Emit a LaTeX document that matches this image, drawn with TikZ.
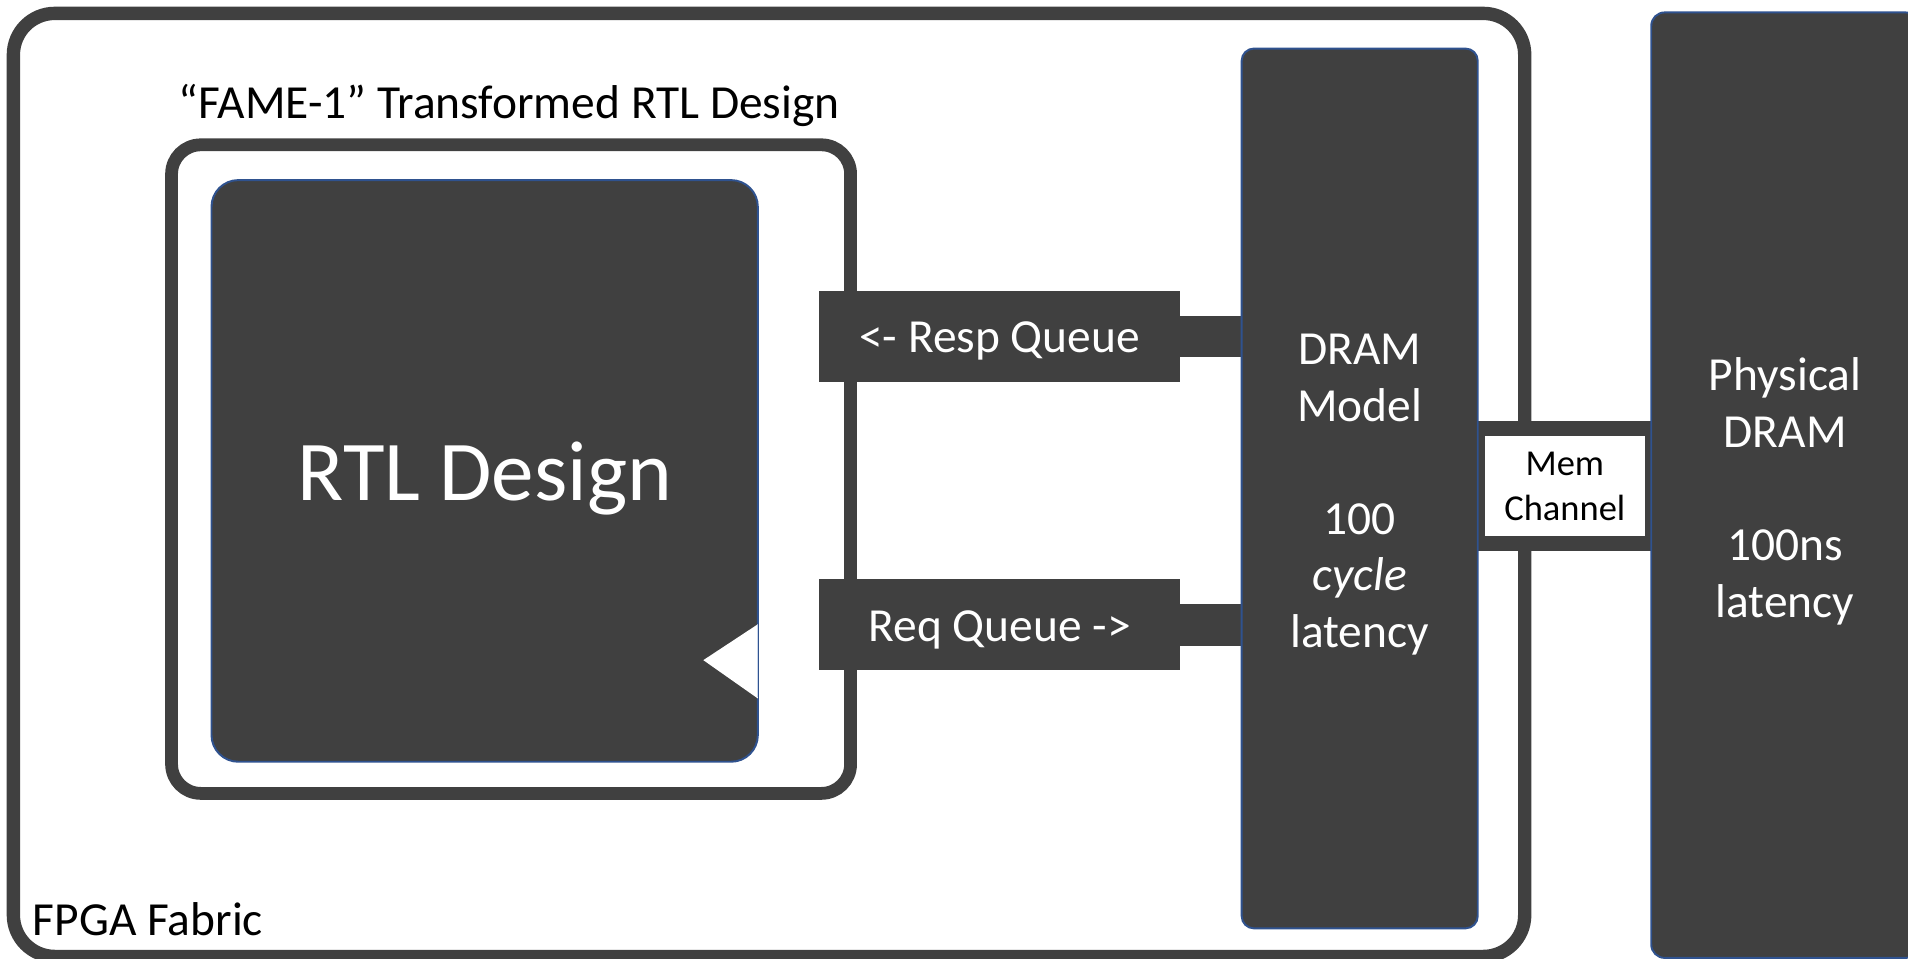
\documentclass[tikz,border=0pt]{standalone}
\usepackage{fontspec}
\setmainfont{Carlito}
\definecolor{slate}{HTML}{404040}
\definecolor{edgeblue}{HTML}{2F528F}
\definecolor{paleblue}{HTML}{C9D5EA}
\pgfdeclarelayer{bg}
\pgfsetlayers{bg,main}
\begin{document}
\begin{tikzpicture}[x=1pt,y=-1pt,
  frame/.style={draw=slate, inner sep=0pt, outer sep=0pt},
  block/.style={fill=slate, draw=edgeblue, line width=1.6pt, inner sep=0pt, outer sep=0pt},
  queue/.style={fill=slate, inner sep=0pt, outer sep=0pt,
    minimum width=297pt, minimum height=75pt},
  wtext/.style={inner sep=0pt, outer sep=0pt, text=white, align=center,
    font=\fontsize{39}{46.5}\selectfont},
  link/.style={draw=slate, line cap=butt},
  lbl/.style={inner sep=0pt, outer sep=0pt, font=\fontsize{39}{46.5}\selectfont}]
\clip (0,0) rectangle (1568,788);

% FPGA fabric frame
\node[frame, line width=11pt, rounded corners=34pt,
  minimum width=1242pt, minimum height=775pt] (fpga) at (632,398.5) {};
\node[lbl, anchor=base west] (fpgalbl) at (27,768.5) {FPGA Fabric};

% transformed design frame
\node[frame, line width=10.5pt, rounded corners=24pt,
  minimum width=558pt, minimum height=533pt] (fame) at (420,385.5) {};
\node[lbl, anchor=base] (famelbl) at (418.5,97) {“FAME-1” Transformed RTL Design};

% RTL design block with its clock notch
\node[block, rounded corners=22pt, minimum width=449pt, minimum height=478pt] (rtl) at (398.3,387) {};
\node[wtext, font=\fontsize{70}{84}\selectfont, anchor=base] (rtltxt) at (398.5,411) {RTL Design};
\fill[white] (rtl.east |- 0,513) -- (578,542.5) -- (rtl.east |- 0,574) -- cycle;
\draw[paleblue, line width=0.8pt] (rtl.east |- 0,514) -- (rtl.east |- 0,573);

% queues
\node[queue] (resp) at (821.5,276.5) {};
\node[wtext] (resptxt) at ([yshift=-4pt]resp.center) {<- Resp Queue};
\node[queue] (req) at (821.5,513.5) {};
\node[wtext] (reqtxt) at ([yshift=-4pt]req.center) {Req Queue ->};

% DRAM model and physical DRAM
\node[block, rounded corners=10pt, minimum width=194pt, minimum height=723pt] (dram) at (1117.4,401.4) {};
\node[wtext] (dramtxt) at ([yshift=-5pt]dram.center)
  {DRAM\\Model\\[46.5pt]100\\\textit{cycle}\\latency};
\node[block, rounded corners=11pt, minimum width=220pt, minimum height=777pt] (phys) at (1467,398.7) {};
\node[wtext] (phystxt) at ([yshift=-5pt]phys.center)
  {Physical\\DRAM\\[46.5pt]100ns\\latency};

% memory channel
\node[fill=white, inner sep=0pt, outer sep=0pt, minimum width=132pt, minimum height=82pt,
  align=center, font=\fontsize{30}{37}\selectfont] (mem) at (1286,399.5) {Mem\\Channel};

\begin{pgfonlayer}{bg}
  \draw[link, line width=34pt] (resp.east) -- (resp.east -| dram.west);
  \draw[link, line width=34pt] (req.east) -- (req.east -| dram.west);
  \draw[link, line width=107pt] (mem.center -| dram.east) -- (mem.center -| phys.west);
\end{pgfonlayer}
\end{tikzpicture}
\end{document}
